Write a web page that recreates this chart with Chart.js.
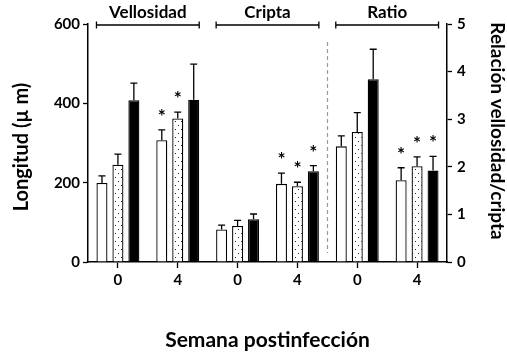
<!DOCTYPE html>
<html>
<head>
<meta charset="utf-8">
<script src="https://cdn.jsdelivr.net/npm/chart.js@4.4.1/dist/chart.umd.min.js"></script>
<style>
  html, body { margin: 0; padding: 0; background: #fff; }
  #wrap { width: 507px; height: 352px; }
</style>
</head>
<body>
<div id="wrap"><canvas id="chart" width="507" height="352"></canvas></div>
<script>
// weeks post infection, two per panel
const weeks = ["0", "4", "0", "4", "0", "4"];
const panels = ["Vellosidad", "Cripta", "Ratio"];

// length in µm: Vellosidad wk0, wk4, Cripta wk0, wk4
const lenWhite  = [199, 307, 82, 197];
const lenDotted = [245, 362, 91, 191];
const lenBlack  = [408, 409, 108, 229];
const lenWhiteErr  = [18, 26, 11, 27];
const lenDottedErr = [27, 16, 14, 10];
const lenBlackErr  = [43, 90, 13, 14];

// villus/crypt ratio: wk0, wk4
const ratioWhite  = [2.43, 1.72];
const ratioDotted = [2.73, 2.01];
const ratioBlack  = [3.84, 1.92];
const ratioWhiteErr  = [0.22, 0.26];
const ratioDottedErr = [0.41, 0.20];
const ratioBlackErr  = [0.63, 0.30];

// asterisks (p < 0.05) per category
const sigWhite  = [false, true, false, true, false, true];
const sigDotted = [false, true, false, true, false, true];
const sigBlack  = [false, false, false, true, false, true];

const lenTicks = [0, 200, 400, 600];
const ratioTicks = [0, 1, 2, 3, 4, 5];

const FONT = "Lato";
Chart.defaults.font.family = FONT;
Chart.defaults.color = "#000";

function dotPattern() {
  const c = document.createElement("canvas");
  c.width = 6; c.height = 8;
  const g = c.getContext("2d");
  g.fillStyle = "#fff";
  g.fillRect(0, 0, 6, 8);
  g.fillStyle = "#222";
  g.fillRect(1, 1, 1, 1);
  g.fillRect(4, 5, 1, 1);
  return g.createPattern(c, "repeat");
}

const pad = (arr, before, after) =>
  [...Array(before).fill(null), ...arr, ...Array(after).fill(null)];

const series = [
  { fill: "#fff", border: "#000", len: lenWhite, lenErr: lenWhiteErr, ratio: ratioWhite, ratioErr: ratioWhiteErr, sig: sigWhite },
  { fill: dotPattern(), border: "#000", len: lenDotted, lenErr: lenDottedErr, ratio: ratioDotted, ratioErr: ratioDottedErr, sig: sigDotted },
  { fill: "#000", border: "#000", len: lenBlack, lenErr: lenBlackErr, ratio: ratioBlack, ratioErr: ratioBlackErr, sig: sigBlack },
];

const barStyle = (s) => ({
  backgroundColor: s.fill,
  borderColor: s.border,
  borderWidth: 1.3,
  skipNull: true,
  categoryPercentage: 0.8,
  barPercentage: 0.69,
});

const datasets = [
  ...series.map(s => ({
    ...barStyle(s), yAxisID: "y",
    data: pad(s.len, 0, 2), errors: pad(s.lenErr, 0, 2), sig: s.sig,
  })),
  ...series.map(s => ({
    ...barStyle(s), yAxisID: "y2",
    data: pad(s.ratio, 4, 0), errors: pad(s.ratioErr, 4, 0), sig: s.sig,
  })),
];

// error bars, asterisks, panel brackets, separator and axis titles
const extras = {
  id: "extras",
  afterDatasetsDraw(chart) {
    const ctx = chart.ctx;
    const area = chart.chartArea;
    ctx.save();
    ctx.strokeStyle = "#000";
    ctx.fillStyle = "#000";
    ctx.lineWidth = 1.3;
    ctx.textAlign = "center";
    ctx.textBaseline = "middle";
    ctx.font = "bold 19px " + FONT;

    chart.data.datasets.forEach((ds, i) => {
      const meta = chart.getDatasetMeta(i);
      const scale = chart.scales[ds.yAxisID];
      meta.data.forEach((bar, j) => {
        const v = ds.data[j];
        if (v == null) return;
        const top = scale.getPixelForValue(v + ds.errors[j]);
        ctx.beginPath();
        ctx.moveTo(bar.x, bar.y);
        ctx.lineTo(bar.x, top);
        ctx.moveTo(bar.x - 3.5, top);
        ctx.lineTo(bar.x + 3.5, top);
        ctx.stroke();
        if (ds.sig[j]) ctx.fillText("*", bar.x, top - 13);
      });
    });

    // brackets over each panel
    const edges = (idx, side) => {
      let best = side < 0 ? Infinity : -Infinity;
      chart.data.datasets.forEach((ds, i) => {
        if (ds.data[idx] == null) return;
        const bar = chart.getDatasetMeta(i).data[idx];
        const e = bar.x + side * bar.width / 2;
        best = side < 0 ? Math.min(best, e) : Math.max(best, e);
      });
      return best;
    };
    const by = area.top + 1;
    ctx.font = "bold 17px " + FONT;
    panels.forEach((name, p) => {
      const x0 = edges(2 * p, -1);
      const x1 = edges(2 * p + 1, 1);
      ctx.beginPath();
      ctx.moveTo(x0, by); ctx.lineTo(x1, by);
      ctx.moveTo(x0, by - 3.5); ctx.lineTo(x0, by + 3.5);
      ctx.moveTo(x1, by - 3.5); ctx.lineTo(x1, by + 3.5);
      ctx.stroke();
      ctx.fillText(name, (x0 + x1) / 2, by - 12);
    });

    // dashed separator before the ratio panel
    const xs = chart.scales.x;
    const sx = Math.round((xs.getPixelForValue(3) + xs.getPixelForValue(4)) / 2) + 0.5;
    ctx.strokeStyle = "#999";
    ctx.lineWidth = 1.2;
    ctx.setLineDash([4, 3]);
    ctx.beginPath();
    ctx.moveTo(sx, area.top + 18);
    ctx.lineTo(sx, area.bottom - 9);
    ctx.stroke();
    ctx.setLineDash([]);

    // axis titles
    ctx.fillStyle = "#000";
    ctx.font = "bold 21px " + FONT;
    ctx.fillText("Semana postinfección", (area.left + area.right) / 2, 340);

    ctx.save();
    ctx.translate(22, 147);
    ctx.rotate(-Math.PI / 2);
    ctx.font = "bold 20px " + FONT;
    ctx.fillText("Longitud (\u00b5 m)", 0, 0);
    ctx.restore();

    ctx.save();
    ctx.translate(497, 131);
    ctx.rotate(Math.PI / 2);
    ctx.font = "bold 19px " + FONT;
    ctx.fillText("Relación vellosidad/cripta", 0, 0);
    ctx.restore();

    ctx.restore();
  }
};

const axisGrid = (len) => ({
  display: true,
  drawOnChartArea: false,
  drawTicks: true,
  tickLength: len,
  tickWidth: 1.3,
  tickColor: "#000",
});
const axisBorder = { display: true, color: "#000", width: 1.5 };
const tickFont = { size: 15, weight: "bold" };

new Chart(document.getElementById("chart"), {
  type: "bar",
  data: { labels: weeks, datasets },
  plugins: [extras],
  options: {
    responsive: false,
    animation: false,
    devicePixelRatio: 1,
    layout: { padding: { top: 24, left: 0, right: 0, bottom: 0 } },
    plugins: { legend: { display: false }, tooltip: { enabled: false } },
    scales: {
      x: {
        offset: true,
        grid: { ...axisGrid(6), offset: false },
        border: axisBorder,
        ticks: { font: tickFont, padding: 3, maxRotation: 0 },
        afterFit: s => { s.height = 90; },
      },
      y: {
        position: "left",
        min: 0, max: 600,
        afterBuildTicks: s => { s.ticks = lenTicks.map(v => ({ value: v })); },
        grid: axisGrid(5),
        border: axisBorder,
        ticks: { font: tickFont, padding: 3 },
        afterFit: s => { s.width = 88; },
      },
      y2: {
        position: "right",
        min: 0, max: 5,
        afterBuildTicks: s => { s.ticks = ratioTicks.map(v => ({ value: v })); },
        grid: axisGrid(5),
        border: axisBorder,
        ticks: { font: tickFont, padding: 5 },
        afterFit: s => { s.width = 60; },
      },
    },
  },
});
</script>
</body>
</html>
